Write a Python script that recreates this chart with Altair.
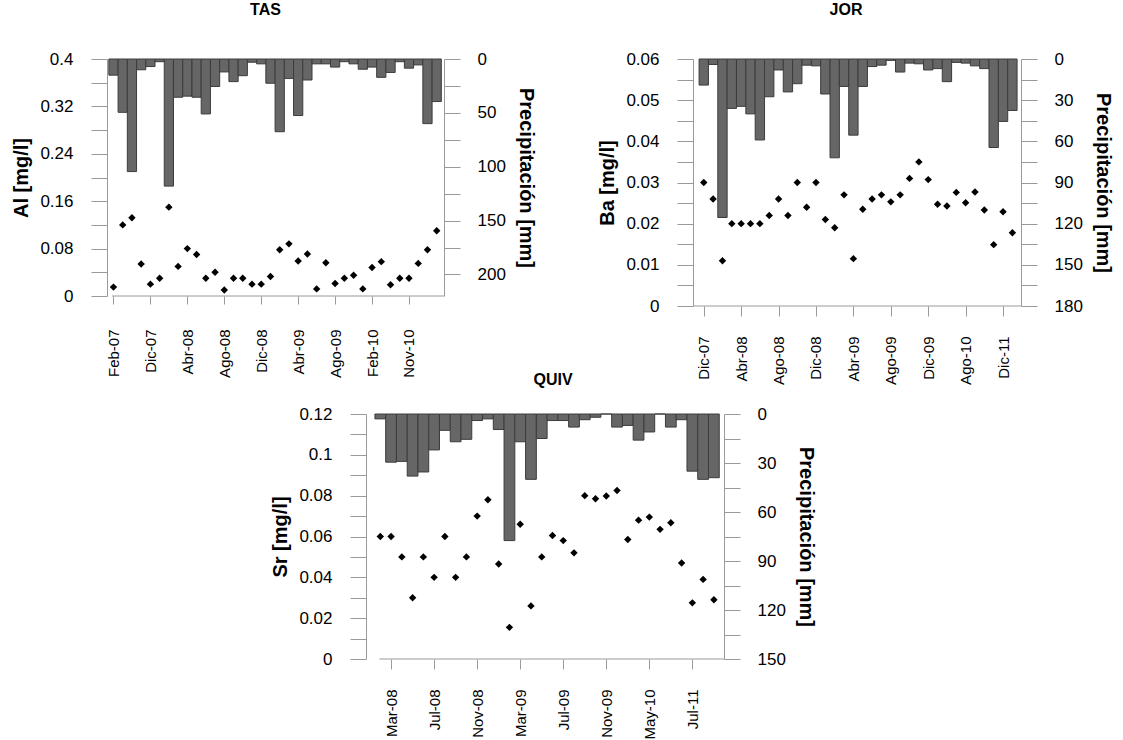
import altair as alt
import pandas as pd

FONT = "Liberation Sans"
GRAY = "#9a9a9a"

# ---------------- TAS ----------------
tas_al = [0.015, 0.120, 0.132, 0.054, 0.020, 0.030, 0.150, 0.050, 0.080, 0.070, 0.030, 0.040,
          0.010, 0.030, 0.030, 0.020, 0.020, 0.033, 0.078, 0.088, 0.059, 0.071, 0.012, 0.056,
          0.021, 0.030, 0.035, 0.012, 0.048, 0.058, 0.019, 0.030, 0.030, 0.055, 0.078, 0.110]
tas_pp = [15, 49.5, 104.5, 10, 7, 2.5, 118, 35.5, 34.5, 35.5, 51, 25.5,
          12, 21, 15.5, 3, 4.5, 22.5, 67.5, 18, 52.5, 19.5, 4.5, 4.5,
          7.5, 2.5, 4.5, 9.5, 7.5, 17, 12.5, 2.5, 8.5, 5.5, 60, 39.5]
tas_tick_idx = [0, 4, 8, 12, 16, 20, 24, 28, 32]
tas_tick_lab = ["Feb-07", "Dic-07", "Abr-08", "Ago-08", "Dic-08", "Abr-09", "Ago-09", "Feb-10", "Nov-10"]

# ---------------- JOR ----------------
jor_ba = [0.030, 0.026, 0.011, 0.020, 0.020, 0.020, 0.020, 0.022, 0.026, 0.022, 0.030, 0.024,
          0.030, 0.021, 0.019, 0.027, 0.0115, 0.0235, 0.026, 0.027, 0.0253, 0.027, 0.031, 0.035,
          0.0307, 0.0247, 0.0243, 0.0276, 0.0251, 0.0277, 0.0233, 0.0149, 0.0229, 0.0178]
jor_pp = [19, 4, 115.5, 36, 34.5, 40, 59, 27.5, 8, 24, 18, 4.5,
          5, 25.5, 72, 20, 55.5, 20, 5.5, 4.5, 1, 9.5, 3, 3.5,
          8, 7, 16.5, 2.5, 3, 5, 7, 64.5, 45.5, 37.5]
jor_tick_idx = [0, 4, 8, 12, 16, 20, 24, 28, 32]
jor_tick_lab = ["Dic-07", "Abr-08", "Ago-08", "Dic-08", "Abr-09", "Ago-09", "Dic-09", "Ago-10", "Dic-11"]

# ---------------- QUIV ----------------
quiv_sr = [0.060, 0.060, 0.050, 0.030, 0.050, 0.040, 0.060, 0.040, 0.050, 0.070, 0.078, 0.0465,
           0.0155, 0.066, 0.026, 0.050, 0.0605, 0.058, 0.052, 0.080, 0.0785, 0.0798, 0.0825, 0.0585,
           0.068, 0.0695, 0.0635, 0.0667, 0.047, 0.0275, 0.039, 0.029]
quiv_pp = [3, 29.5, 29, 38, 35.5, 22, 10, 17, 15.5, 4, 3, 9.5,
           77.5, 17, 40, 15, 4, 4, 8, 3.5, 2, 0, 8, 7,
           16, 11, 0, 8, 3.5, 35, 40, 39]
quiv_tick_idx = [1, 5, 9, 13, 17, 21, 25, 29]
quiv_tick_lab = ["Mar-08", "Jul-08", "Nov-08", "Mar-09", "Jul-09", "Nov-09", "May-10", "Jul-11"]


def panel(title, conc, precip, ylabel, ymax, ystep, pmax, pstep, tick_idx, tick_lab,
          xdom, xline_start, w, h, xtick, xlabpad, title_offset, title_dx):
    n = len(conc)
    df = pd.DataFrame({"i": list(range(n)), "c": conc, "p": precip})
    base = alt.Chart(df)
    xscale = alt.Scale(domain=xdom, nice=False, zero=False)
    lab_js = "[" + ",".join("'%s'" % s for s in tick_lab) + "]"
    first = tick_idx[0]
    step = tick_idx[1] - tick_idx[0]
    xaxis = alt.Axis(
        values=tick_idx,
        labelExpr="%s[round((datum.value-%d)/%d)]" % (lab_js, first, step),
        labelAngle=270, labelAlign="right", labelBaseline="middle",
        labelFontSize=15, labelFont=FONT, labelColor="black",
        labelPadding=xlabpad, tickSize=xtick, tickColor=GRAY, tickWidth=1,
        domain=False, grid=False, title=None,
    )
    yvals = [round(k * ystep, 4) for k in range(int(round(ymax / ystep)) + 1)]
    left_axis = alt.Axis(
        orient="left", values=yvals, format=".2~f",
        labelExpr="round(datum.value/%s) %% 2 == 0 ? datum.label : ''" % ystep,
        tickSize=16, tickColor=GRAY, domainColor=GRAY, labelPadding=18,
        labelFontSize=17, labelFont=FONT, labelColor="black", grid=False,
        title=ylabel, titleFontSize=20, titleFont=FONT, titleFontWeight="bold",
        titleColor="black", titlePadding=8,
    )
    pvals = list(range(0, pmax + 1, pstep))
    right_axis = alt.Axis(
        orient="right", values=pvals,
        labelExpr="round(datum.value/%d) %% 2 == 0 ? datum.label : ''" % pstep,
        tickSize=16, tickColor=GRAY, domainColor=GRAY, labelPadding=17,
        labelFontSize=17, labelFont=FONT, labelColor="black", grid=False,
        title="Precipitación [mm]", titleFontSize=20, titleFont=FONT,
        titleFontWeight="bold", titleColor="black", titlePadding=10,
    )
    bars = base.transform_calculate(
        x0="datum.i - 0.5", x1="datum.i + 0.5"
    ).mark_rect(color="#666666", stroke="#3c3c3c", strokeWidth=1).encode(
        x=alt.X("x0:Q", scale=xscale, axis=xaxis),
        x2="x1:Q",
        y=alt.Y("p:Q", scale=alt.Scale(domain=[0, pmax], reverse=True, nice=False), axis=right_axis),
        y2=alt.datum(0),
    )
    pts = base.mark_point(shape="diamond", filled=True, color="black", size=55, opacity=1).encode(
        x=alt.X("i:Q", scale=xscale, axis=xaxis),
        y=alt.Y("c:Q", scale=alt.Scale(domain=[0, ymax], nice=False), axis=left_axis),
    )
    xline = alt.Chart(pd.DataFrame({"s": [xline_start]})).mark_rule(color=GRAY, strokeWidth=1).encode(
        x=alt.X("s:Q", scale=xscale, axis=xaxis),
        x2=alt.value(w),
        y=alt.value(h),
    )
    return alt.layer(bars, pts, xline).resolve_scale(y="independent").properties(
        width=w, height=h,
        title=alt.TitleParams(title, fontSize=16, fontWeight="bold", font=FONT, color="black",
                              offset=title_offset, dx=title_dx, anchor="middle"),
    )


tas = panel("TAS", tas_al, tas_pp, "Al [mg/l]", 0.4, 0.04, 220, 25, tas_tick_idx, tas_tick_lab,
            [-0.70, 35.79], -0.16, 337, 237, 8, 25, 32, -10)
jor = panel("JOR", jor_ba, jor_pp, "Ba [mg/l]", 0.06, 0.005, 180, 15, jor_tick_idx, jor_tick_lab,
            [-1.15, 33.92], -1.15, 328, 247, 10, 20, 32, -11)
quiv = panel("QUIV", quiv_sr, quiv_pp, "Sr [mg/l]", 0.12, 0.01, 150, 15, quiv_tick_idx, quiv_tick_lab,
             [-1.33, 31.94], -0.09, 358, 245, 10, 20, 17, 8)

spacer = alt.Chart(pd.DataFrame({"a": [0]})).mark_point(opacity=0).encode(
    x=alt.X("a:Q", axis=None), y=alt.Y("a:Q", axis=None)
).properties(width=163, height=10)

top = alt.hconcat(tas, jor, spacing=61)
bottom = alt.hconcat(spacer, quiv, spacing=0)
chart = alt.vconcat(top, bottom, spacing=-13).properties(
    padding={"left": 11, "top": 2, "right": 2, "bottom": 0}
).configure(font=FONT).configure_view(strokeWidth=0, stroke=None)

chart.save("out.html", embed_options={"renderer": "svg", "actions": False})
